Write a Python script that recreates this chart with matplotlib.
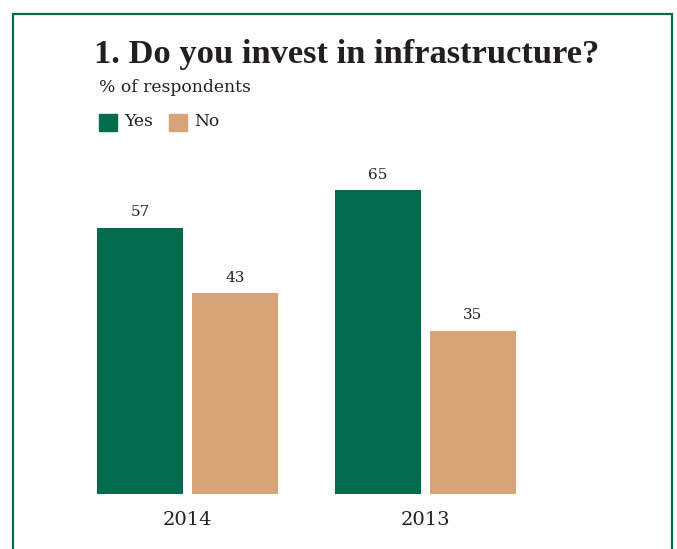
import matplotlib.pyplot as plt
import matplotlib.patches as mpatches
import numpy as np

years = ['2014', '2013']
yes_share = [57, 65]
no_share = [43, 35]

GREEN = '#046b4d'
TAN = '#d6a476'
INK = '#231f20'

W, H = 677, 549
fig = plt.figure(figsize=(W / 100, H / 100), dpi=100)
plt.rcParams['font.family'] = ['DejaVu Serif']
TITLE_FONT = ['Liberation Serif', 'DejaVu Serif']


def fx(px):
    return px / W


def fy(py):
    return 1 - py / H


# outer frame, open at the bottom
fig.add_artist(mpatches.Rectangle((fx(13), fy(560)), fx(659), (560 - 14) / H,
                                  transform=fig.transFigure, fill=False,
                                  edgecolor=GREEN, linewidth=1.6))

fig.text(fx(94), fy(55), '1. Do you invest in infrastructure?', fontsize=24.8,
         fontweight='bold', family=TITLE_FONT, color=INK, va='center', ha='left')
fig.text(fx(99), fy(88), '% of respondents', fontsize=12.3, color=INK,
         va='center', ha='left')

# legend
for x0, label, c in [(99, 'Yes', GREEN), (169, 'No', TAN)]:
    fig.add_artist(mpatches.Rectangle((fx(x0), fy(131)), fx(18), 17 / H,
                                      transform=fig.transFigure, color=c))
    fig.text(fx(x0 + 25), fy(122), label, fontsize=12.3, color=INK,
             va='center', ha='left')

# bars
ax = fig.add_axes([fx(97), fy(494), fx(419), 467 / H])
x = np.arange(len(years))
bw, gap = 86 / 237, 9 / 237
off = (bw + gap) / 2
b1 = ax.bar(x - off, yes_share, bw, color=GREEN)
b2 = ax.bar(x + off, no_share, bw, color=TAN)
for bars in (b1, b2):
    for b in bars:
        ax.annotate(f'{b.get_height():.0f}', (b.get_x() + b.get_width() / 2, b.get_height()),
                    xytext=(0, 6), textcoords='offset points', ha='center',
                    va='bottom', fontsize=11, color=INK)
ax.set_xlim(-off - bw / 2, 1 + off + bw / 2)
ax.set_ylim(0, 100)
ax.set_xticks(x)
ax.set_xticklabels(years, fontsize=14, color=INK)
ax.tick_params(axis='x', length=0, pad=12)
ax.set_yticks([])
for s in ax.spines.values():
    s.set_visible(False)
ax.patch.set_alpha(0)

fig.savefig('out.png', dpi=100)
